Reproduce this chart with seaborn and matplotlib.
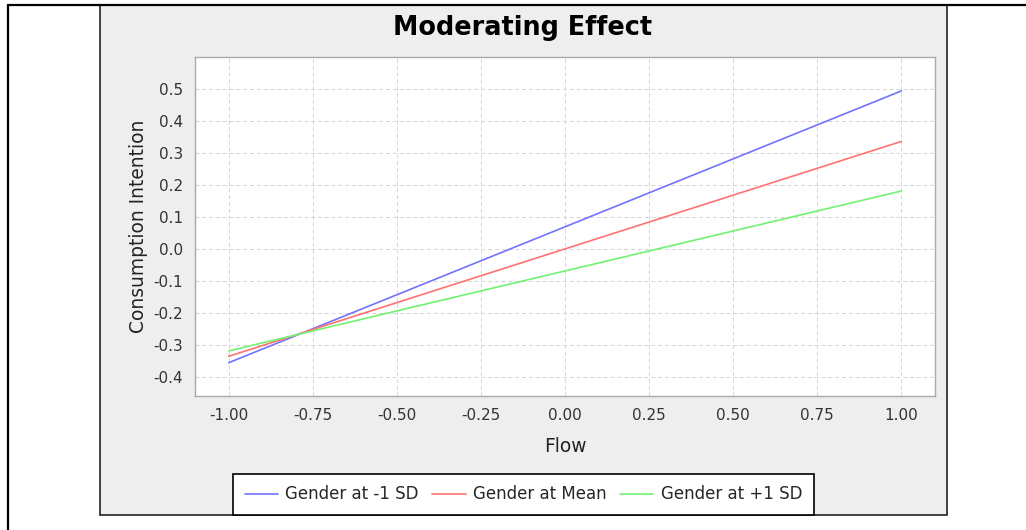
import pandas as pd
import matplotlib.pyplot as plt
import seaborn as sns
from matplotlib.patches import Rectangle
from matplotlib.lines import Line2D

# data
flow = [-1.0, 1.0]
low_sd = [-0.356, 0.494]
mean_sd = [-0.336, 0.336]
high_sd = [-0.319, 0.181]
series_names = ["Gender at -1 SD", "Gender at Mean", "Gender at +1 SD"]
series_colors = ["#7272ff", "#ff7272", "#72f272"]
x_ticks = [-1.0, -0.75, -0.5, -0.25, 0.0, 0.25, 0.5, 0.75, 1.0]
y_ticks = [-0.4, -0.3, -0.2, -0.1, 0.0, 0.1, 0.2, 0.3, 0.4, 0.5]

df = pd.DataFrame({
    "Flow": flow * 3,
    "Consumption Intention": low_sd + mean_sd + high_sd,
    "Series": [series_names[0]] * 2 + [series_names[1]] * 2 + [series_names[2]] * 2,
})

sns.set_style("white")
plt.rcParams["font.family"] = ["DejaVu Sans"]

W, H = 1026, 530
fig = plt.figure(figsize=(W / 100, H / 100), dpi=100)
fig.patch.set_facecolor("white")

# outer frame lines
fig.add_artist(Line2D([8 / W, 8 / W], [0, 1 - 5 / H], color="black", lw=1.6))
fig.add_artist(Line2D([8 / W, 1], [1 - 5 / H, 1 - 5 / H], color="black", lw=1.6))

# grey chart panel
fig.add_artist(Rectangle((100 / W, 15 / H), 847 / W, 510 / H, transform=fig.transFigure,
                         facecolor="#eeeeee", edgecolor="#222222", lw=1.2, zorder=0))

ax = fig.add_axes([195 / W, (H - 396) / H, 740 / W, 339 / H])
ax.set_facecolor("white")

sns.lineplot(data=df, x="Flow", y="Consumption Intention", hue="Series",
             palette=series_colors, linewidth=1.2, ax=ax, legend=False)

ax.set_xlim(-1.1, 1.1)
ax.set_ylim(-0.46, 0.6)
ax.set_xticks(x_ticks)
ax.set_yticks(y_ticks)
ax.set_xticklabels([f"{v:.2f}" for v in x_ticks])
ax.set_yticklabels([f"{v:.1f}" for v in y_ticks])
ax.grid(True, color="#d4d4d4", linestyle=(0, (4, 3)), linewidth=0.7)
for s in ax.spines.values():
    s.set_color("#aaaaaa")
    s.set_linewidth(1.0)
ax.tick_params(axis="both", length=3.5, width=0.8, color="#aaaaaa", pad=5,
               labelsize=11, labelcolor="#333333")
ax.set_xlabel("Flow", fontsize=13.4, color="#222222", labelpad=10)
ax.set_ylabel("Consumption Intention", fontsize=13.4, color="#222222", labelpad=4)

fig.text(523 / W, 1 - 28 / H, "Moderating Effect", ha="center", va="center",
         fontsize=18.4, fontweight="bold", color="black")

handles = [Line2D([], [], color=c, lw=1.2) for c in series_colors]
leg = fig.legend(handles, series_names, loc="lower center", ncol=3,
                 bbox_to_anchor=(523.5 / W, 15 / H), fontsize=12, frameon=True,
                 fancybox=False, edgecolor="black", facecolor="white", framealpha=1,
                 handlelength=2.0, handletextpad=0.45, columnspacing=0.8,
                 borderpad=0.7, borderaxespad=0)
leg.get_frame().set_linewidth(1.2)

fig.savefig("out.png", dpi=100)
plt.close(fig)
